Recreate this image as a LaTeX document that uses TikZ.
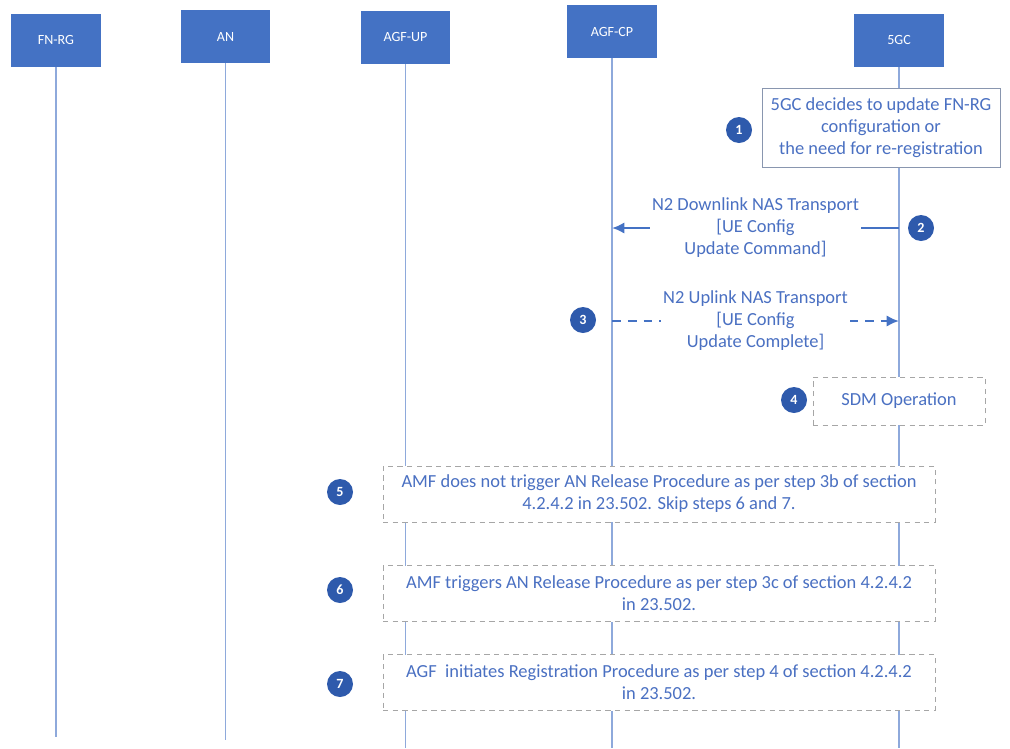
\documentclass[tikz,border=0pt]{standalone}
\usepackage{fontspec}
\setmainfont{Carlito}
\usetikzlibrary{arrows.meta}
\definecolor{hdr}{HTML}{4472C4}
\definecolor{life}{HTML}{8EA9DB}
\definecolor{txt}{HTML}{4A70C2}
\definecolor{dot}{HTML}{2E5AAC}
\definecolor{frame}{HTML}{A6A6A6}
\begin{document}
\begin{tikzpicture}[x=0.02cm,y=-0.02cm,
    hd/.style={fill=hdr,text=white,font=\fontsize{8}{9}\selectfont,
      minimum width=1.8cm,minimum height=1.06cm},
    ll/.style={draw=life,line width=.8pt},
    num/.style={circle,fill=dot,text=white,font=\fontsize{8}{9}\selectfont\bfseries,
      minimum size=.52cm,inner sep=0pt},
    note/.style={draw=frame,fill=white,text=txt,align=center,
      font=\fontsize{10.5}{12.5}\selectfont},
    dnote/.style={note,dash pattern=on 3pt off 2.5pt},
    msg/.style={draw=hdr,line width=1.4pt,-{Latex[length=7pt,width=6.5pt]}},
    lbl/.style={fill=white,text=txt,align=center,inner sep=1pt,
      font=\fontsize{10.5}{12.5}\selectfont}]
\useasboundingbox (0,0) rectangle (1010,748);
% entities
\node[hd] (fnrg) at (56,40) {FN-RG};
\node[hd] (an) at (225.5,36.5) {AN};
\node[hd] (agfup) at (405.5,37) {AGF-UP};
\node[hd] (agfcp) at (612,31.5) {AGF-CP};
\node[hd] (fgc) at (899,40) {5GC};
% lifelines
\coordinate (fnrgE) at (fnrg |- 0,737);
\coordinate (anE) at (an |- 0,740);
\coordinate (agfupE) at (agfup |- 0,748);
\coordinate (agfcpE) at (agfcp |- 0,748);
\coordinate (fgcE) at (fgc |- 0,748);
\draw[ll] (fnrg) -- (fnrgE);
\draw[ll] (an) -- (anE);
\draw[ll] (agfup) -- (agfupE);
\draw[ll] (agfcp) -- (agfcpE);
\draw[ll] (fgc) -- (fgcE);
% step 1
\node[note,draw=frame!70!hdr,minimum width=4.76cm,minimum height=1.58cm] (s1) at (881,127.5)
  {5GC decides to update FN-RG\\configuration or\\the need for re-registration};
\node[num] (n1) at (739,130) {1};
% step 2
\coordinate (m2a) at (fgc |- 0,228);
\coordinate (m2b) at (agfcp |- 0,228);
\draw[msg] (m2a) -- node[lbl] (t2) {N2 Downlink NAS Transport\\{[}UE Config\\Update Command{]}} (m2b);
\node[num] (n2) at (921,228) {2};
% step 3
\coordinate (m3a) at (agfcp |- 0,321);
\coordinate (m3b) at (fgc |- 0,321);
\draw[msg,dash pattern=on 5pt off 4pt] (m3a) -- node[lbl] (t3) {N2 Uplink NAS Transport\\{[}UE Config\\Update Complete{]}} (m3b);
\node[num] (n3) at (583,320) {3};
% step 4
\node[dnote,minimum width=3.44cm,minimum height=.96cm] (s4) at (899,401) {SDM Operation};
\node[num] (n4) at (794,400) {4};
% steps 5-7
\node[dnote,minimum width=11.04cm,minimum height=1.12cm] (s5) at (659,494)
  {AMF does not trigger AN Release Procedure as per step 3b of section\\4.2.4.2 in 23.502. Skip steps 6 and 7.};
\node[num] (n5) at (340,492) {5};
\node[dnote,minimum width=11.04cm,minimum height=1.12cm] (s6) at (659,593.5)
  {AMF triggers AN Release Procedure as per step 3c of section 4.2.4.2\\in 23.502.};
\node[num] (n6) at (340,590) {6};
\node[dnote,minimum width=11.04cm,minimum height=1.12cm] (s7) at (659,682.5)
  {AGF\ \ initiates Registration Procedure as per step 4 of section 4.2.4.2\\in 23.502.};
\node[num] (n7) at (340,684) {7};
\end{tikzpicture}
\end{document}
